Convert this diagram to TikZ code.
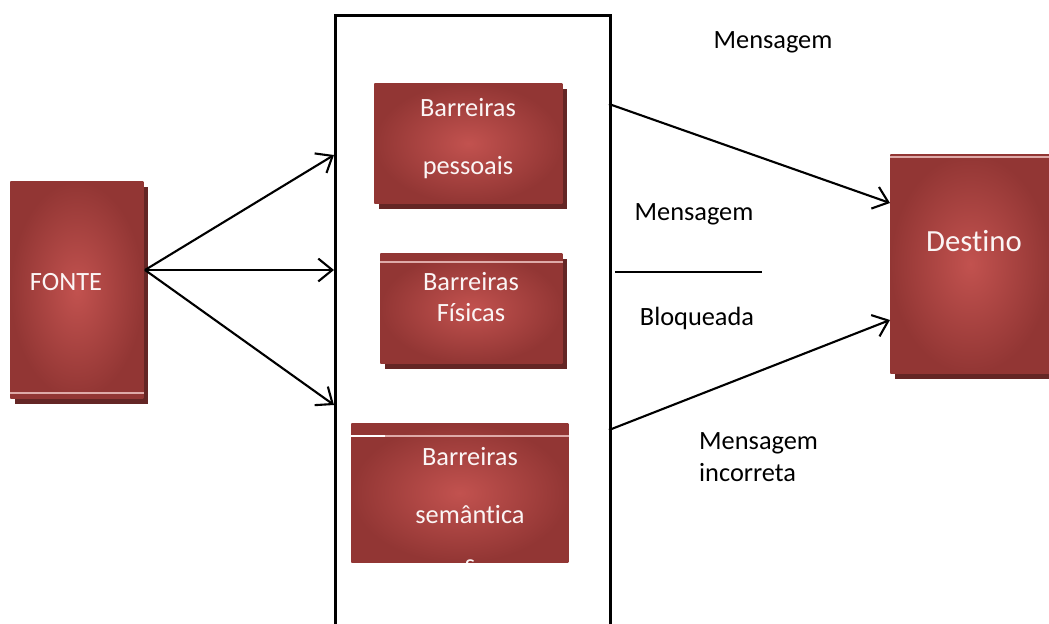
\documentclass[tikz,border=0pt]{standalone}
\usepackage{fontspec}
\setmainfont[Ligatures=NoCommon]{Carlito}
\usetikzlibrary{arrows.meta,shadows}

\definecolor{boxinner}{RGB}{194,82,79}
\definecolor{boxouter}{RGB}{146,54,52}
\definecolor{boxshadow}{RGB}{100,38,37}
\definecolor{stripe}{RGB}{222,170,168}

\tikzset{
  barrier/.style={rectangle,inner sep=0pt,anchor=north west,inner color=boxinner,outer color=boxouter},
  shadowed/.style={drop shadow={shadow xshift=0.1cm,shadow yshift=-0.11cm,fill=boxshadow,opacity=1}},
  boxtext/.style={text=white!94!boxinner,font=\fontsize{15}{18}\selectfont,align=center},
  plain/.style={font=\fontsize{15}{18.5}\selectfont,align=left},
  stripeline/.style={stripe,line width=1pt},
  link/.style={line width=1.2pt,-{Straight Barb[length=8pt,width=13pt,line width=1.2pt]}}
}

\begin{document}
\begin{tikzpicture}[x=0.02cm,y=-0.02cm]
  \clip (0,0) rectangle (1049,623);

  % frame round the barriers
  \node[draw,line width=1.5pt,anchor=north west,minimum width=5.5cm,minimum height=12.8cm] (frame) at (334,14) {};

  % source and destination
  \node[barrier,shadowed,minimum width=2.66cm,minimum height=4.34cm] (fonte) at (10,181) {};
  \node[boxtext] (fontetxt) at (66,282) {FONTE};
  \draw[stripeline] ([yshift=0.12cm]fonte.south west) -- ([yshift=0.12cm]fonte.south east);

  \node[barrier,shadowed,minimum width=3.2cm,minimum height=4.38cm] (destino) at (890,154) {};
  \node[boxtext,font=\fontsize{17.5}{21}\selectfont] (destinotxt) at (974,241) {Destino};
  \draw[stripeline] ([yshift=-0.06cm]destino.north west) -- ([yshift=-0.06cm]destino.north east);

  % barriers
  \node[barrier,shadowed,minimum width=3.76cm,minimum height=2.40cm] (pessoais) at (374,83) {};
  \node[boxtext] (pessoaistxt) at (468,139) {Barreiras\\[15pt]pessoais};

  \node[barrier,shadowed,minimum width=3.64cm,minimum height=2.20cm] (fisicas) at (380,253) {};
  \node[boxtext] (fisicastxt) at (471,297) {Barreiras\\Físicas};
  \draw[stripeline] ([yshift=-0.18cm]fisicas.north west) -- ([yshift=-0.18cm]fisicas.north east);

  \node[barrier,minimum width=4.34cm,minimum height=2.78cm] (semantica) at (351,423) {};
  \begin{scope}
    \clip (semantica.south west) rectangle (semantica.north east);
    \node[boxtext] (semanticatxt) at (470,510) {Barreiras\\[15pt]semântica\\[10pt]s};
  \end{scope}
  \draw[stripeline] ([yshift=-0.26cm]semantica.north west) -- ([yshift=-0.26cm]semantica.north east);
  \draw[white,line width=1.5pt] ([yshift=-0.26cm]semantica.north west) -- ++(34,0);

  % source -> barriers
  \coordinate (src) at (145,270);
  \coordinate (in1) at (334,155);
  \coordinate (in2) at (334,270);
  \coordinate (in3) at (334,405);
  \draw[link] (src) -- (in1);
  \draw[link] (src) -- (in2);
  \draw[link] (src) -- (in3);

  % barriers -> destination
  \coordinate (out1) at (609,104);
  \coordinate (out2) at (609,430);
  \coordinate (dst1) at (890,203);
  \coordinate (dst2) at (890,320);
  \draw[link] (out1) -- (dst1);
  \draw[link] (out2) -- (dst2);

  % messages
  \node[plain] (msgtop) at (773,42) {Mensagem};
  \node[plain] (msgmid) at (694,214) {Mensagem};
  \node[plain] (blocked) at (697,318) {Bloqueada};
  \draw[line width=1pt] (615,272) -- (762,272);
  \node[plain,anchor=west] (wrong) at (693,457) {Mensagem\\incorreta};
\end{tikzpicture}
\end{document}
